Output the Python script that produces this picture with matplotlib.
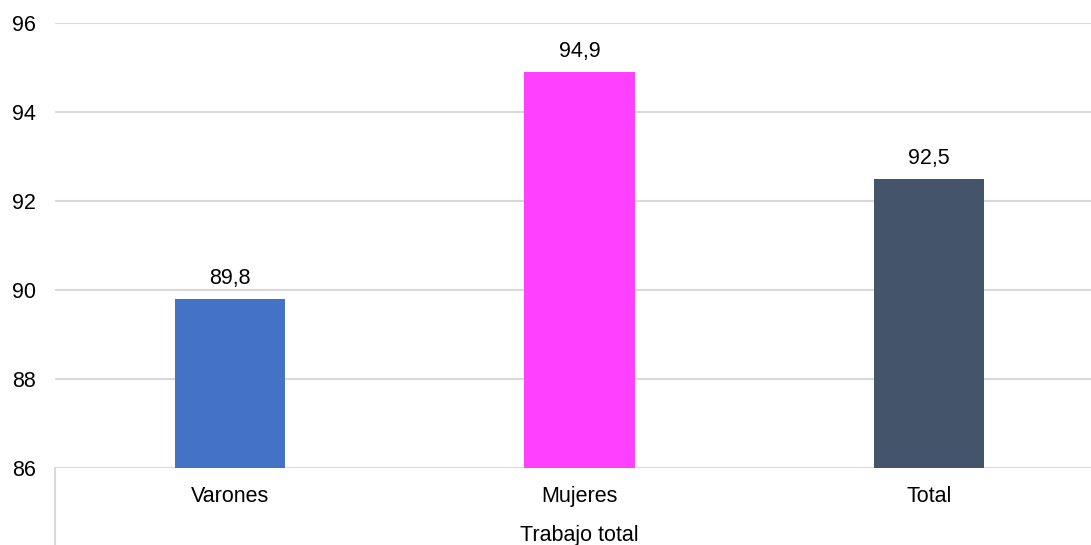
import matplotlib.pyplot as plt
from matplotlib.lines import Line2D

categories = ["Varones", "Mujeres", "Total"]
values = [89.8, 94.9, 92.5]
bar_colors = ["#4472C4", "#FF40FF", "#44546A"]
group_label = "Trabajo total"
y_ticks = [86, 88, 90, 92, 94, 96]

plt.rcParams['font.family'] = ['Liberation Sans', 'DejaVu Sans']
FS = 15.5

fig = plt.figure(figsize=(10.91, 5.45), dpi=100)
W, H = 1091, 545
# plot area runs past the right edge of the image, as in the reference
ax = fig.add_axes([55 / W, (H - 468) / H, (1104 - 55) / W, (468 - 23) / H])

x = list(range(len(categories)))
ax.bar(x, values, width=0.315, color=bar_colors, bottom=0, zorder=3)
ax.set_xlim(-0.5, len(categories) - 0.5)
ax.set_ylim(86, 96)
ax.set_yticks(y_ticks)
ax.set_yticklabels([str(t) for t in y_ticks], fontsize=FS)
ax.tick_params(axis='y', length=0, pad=14)
ax.tick_params(axis='x', length=0, pad=13)
ax.set_xticks(x)
ax.set_xticklabels(categories, fontsize=FS)
ax.grid(axis='y', color='#d9d9d9', linewidth=1.5, zorder=0)
for s in ax.spines.values():
    s.set_visible(False)

for xi, v in zip(x, values):
    ax.annotate(f"{v:.1f}".replace(".", ","), (xi, v), xytext=(0, 7),
                textcoords='offset points', ha='center', va='bottom', fontsize=FS)

# multi-level category separator line and group label
fig.add_artist(Line2D([55 / W, 55 / W], [0, (H - 468) / H], color='#d9d9d9',
                      linewidth=1.5, transform=fig.transFigure))
fig.text(579.5 / W, (H - 535) / H, group_label, ha='center', va='center', fontsize=FS)

fig.savefig("out.png", dpi=100)
